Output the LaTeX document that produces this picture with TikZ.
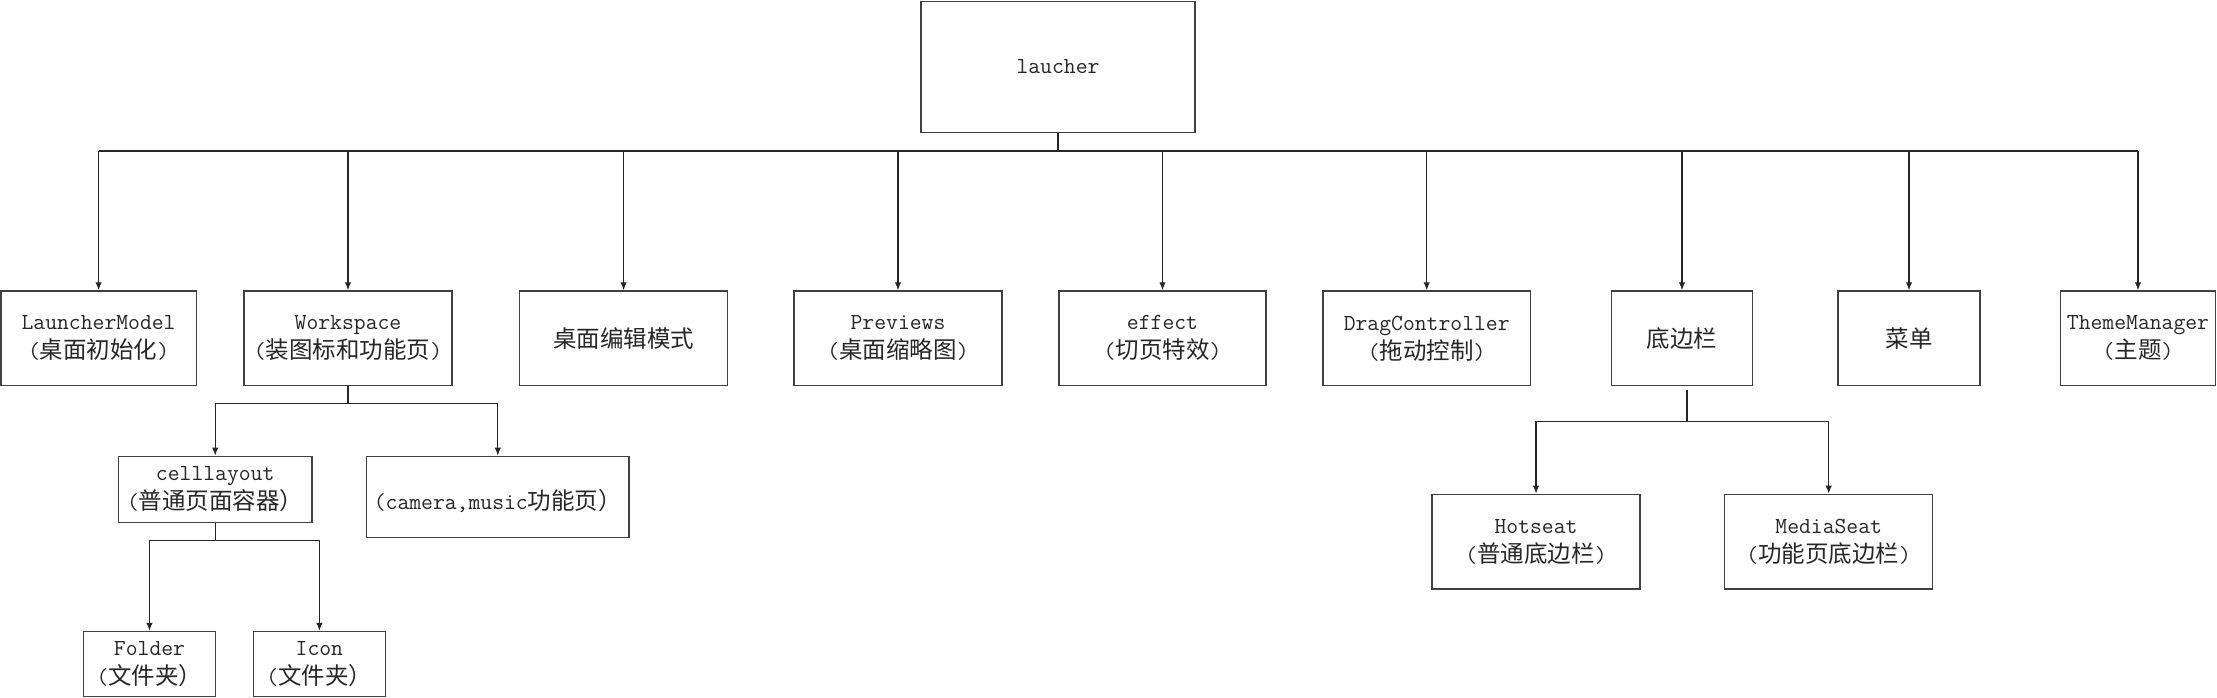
\documentclass[tikz,border=0pt]{standalone}
\usepackage{fontspec}
\newfontfamily\cjk{Noto Sans CJK SC}
\usetikzlibrary{arrows.meta}
\tikzset{
  box/.style={draw=black!75, line width=1.3pt, inner sep=0pt, align=center,
    font=\ttfamily\fontsize{23}{29}\selectfont, text=black!85},
  arr/.style={line width=1.3pt, draw=black!85, -{Latex[length=8pt,width=6.5pt]}},
  ln/.style={line width=1.3pt, draw=black!85},
}
\newcommand{\zh}[1]{{\cjk\fontsize{23.5}{29}\selectfont #1}}
\begin{document}
\begin{tikzpicture}[x=1pt,y=-1pt]
\useasboundingbox (0,0) rectangle (2217,698);
% root
\node[box, minimum width=274pt, minimum height=131pt] (root) at (1058,66.7) {laucher};
% first level
\node[box, minimum width=195.5pt, minimum height=94.7pt] (lm) at (98.6,338.3) {LauncherModel\\(\zh{桌面初始化})};
\node[box, minimum width=208pt, minimum height=94.7pt] (ws) at (348,338.3) {Workspace\\(\zh{装图标和功能页})};
\node[box, minimum width=207.7pt, minimum height=94.7pt] (ed) at (623.6,338.3) {\zh{桌面编辑模式}};
\node[box, minimum width=208pt, minimum height=94.7pt] (pv) at (898,338.3) {Previews\\(\zh{桌面缩略图})};
\node[box, minimum width=207pt, minimum height=94.7pt] (ef) at (1162.5,338.3) {effect\\(\zh{切页特效})};
\node[box, minimum width=207.3pt, minimum height=94.7pt] (dc) at (1426.7,338.3) {DragController\\(\zh{拖动控制})};
\node[box, minimum width=141pt, minimum height=94.7pt] (db) at (1682,338.3) {\zh{底边栏}};
\node[box, minimum width=142pt, minimum height=94.7pt] (cd) at (1909,338.3) {\zh{菜单}};
\node[box, minimum width=155.3pt, minimum height=94.7pt] (tm) at (2138,338.3) {ThemeManager\\(\zh{主题})};
% second level
\node[box, minimum width=193.7pt, minimum height=66pt] (cl) at (215.2,489.3) {celllayout\\(\zh{普通页面容器）}};
\node[box, minimum width=262.5pt, minimum height=81.4pt] (cam) at (497.8,497) {\mbox{}\\(camera,music\zh{功能页）}};
\node[box, minimum width=208pt, minimum height=94.7pt] (hs) at (1536,541.7) {Hotseat\\(\zh{普通底边栏})};
\node[box, minimum width=208pt, minimum height=94.7pt] (ms) at (1828.7,541.7) {MediaSeat\\(\zh{功能页底边栏})};
% third level
\node[box, minimum width=132pt, minimum height=65pt] (fd) at (149.5,664) {Folder\\(\zh{文件夹）}};
\node[box, minimum width=131.6pt, minimum height=65pt] (ic) at (319.4,664) {Icon\\(\zh{文件夹）}};
% bus from root
\coordinate (bus) at (0,150.7);
\draw[ln, line width=2pt] (root.south) -- (root.south |- bus);
\draw[ln, line width=1.8pt] (lm.north |- bus) -- (tm.north |- bus);
\foreach \n in {lm,ws,ed,pv,ef,dc,db,cd,tm}{
  \draw[arr] (\n.north |- bus) -- (\n.north);
}
% workspace split
\coordinate (wsplit) at (0,403.3);
\draw[ln] (ws.south) -- (ws.south |- wsplit);
\draw[arr] (ws.south |- wsplit) -| (cl.north);
\draw[arr] (ws.south |- wsplit) -| (cam.north);
% celllayout split
\coordinate (csplit) at (0,540.3);
\draw[ln] (cl.south) -- (cl.south |- csplit);
\draw[arr] (cl.south |- csplit) -| (fd.north);
\draw[arr] (cl.south |- csplit) -| (ic.north);
% dock split
\coordinate (dbs) at (1687,390);
\coordinate (dsplit) at (0,421.7);
\draw[ln] (dbs) -- (dbs |- dsplit);
\draw[arr] (dbs |- dsplit) -| (hs.north);
\draw[arr] (dbs |- dsplit) -| (ms.north);
\end{tikzpicture}
\end{document}
